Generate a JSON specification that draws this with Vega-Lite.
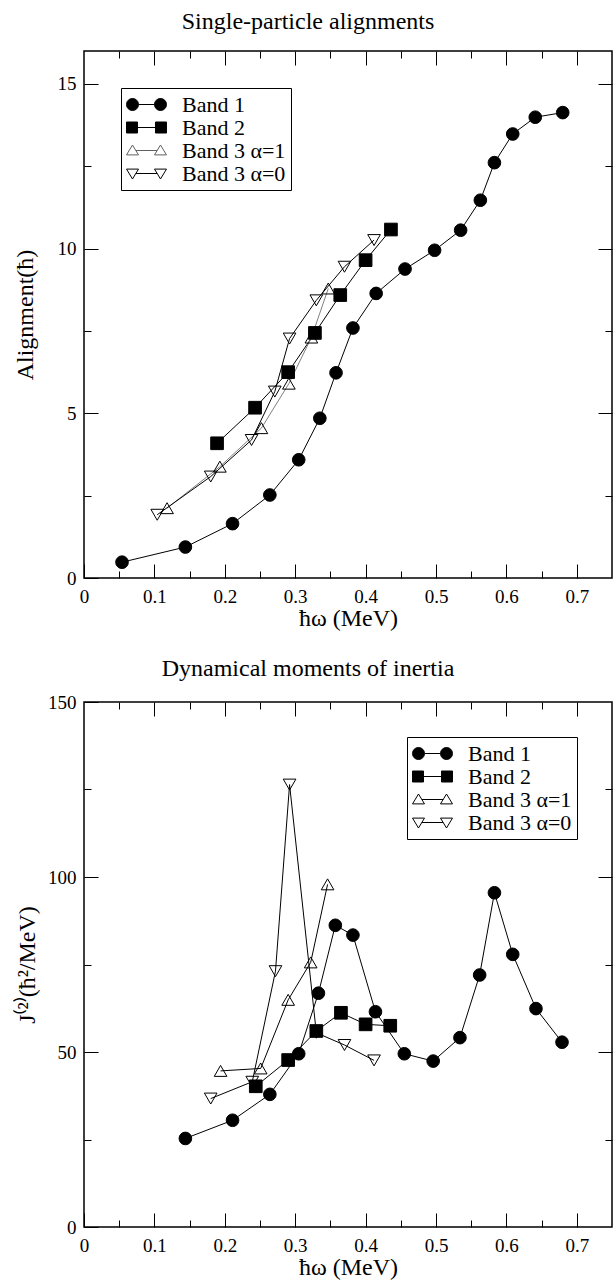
{
  "$schema": "https://vega.github.io/schema/vega-lite/v6.json",
  "padding": {"left": 12, "top": 8, "right": 1, "bottom": 0},
  "config": {
    "font": "Liberation Serif",
    "view": {"stroke": "black", "strokeWidth": 1.5},
    "axis": {"domain": false, "grid": false, "tickColor": "black", "tickWidth": 1, "labelColor": "black", "titleColor": "black", "labelFont": "Liberation Serif", "titleFont": "Liberation Serif", "labelFontSize": 19, "titleFontSize": 24, "titleFontWeight": "normal", "labelFlush": false, "labelOverlap": false},
    "title": {"font": "Liberation Serif", "fontSize": 24, "fontWeight": "normal", "color": "black"},
    "legend": {"title": null, "labelFont": "Liberation Serif", "labelFontSize": 22, "labelColor": "black", "strokeColor": "black", "fillColor": "white", "padding": 5, "rowPadding": 0, "symbolSize": 484, "symbolOffset": 9, "symbolStrokeWidth": 1, "symbolStrokeColor": "black", "labelOffset": 24, "labelLimit": 300}
  },
  "bounds": "flush",
  "spacing": 124,
  "resolve": {"scale": {"shape": "independent", "fill": "independent", "stroke": "independent"}, "legend": {"shape": "independent", "fill": "independent", "stroke": "independent"}},
  "datasets": {
    "align": [
      {"band": "Band 1", "x": 0.054, "y": 0.48}, {"band": "Band 1", "x": 0.144, "y": 0.94}, {"band": "Band 1", "x": 0.211, "y": 1.65}, {"band": "Band 1", "x": 0.264, "y": 2.52}, {"band": "Band 1", "x": 0.305, "y": 3.59}, {"band": "Band 1", "x": 0.335, "y": 4.85}, {"band": "Band 1", "x": 0.358, "y": 6.23}, {"band": "Band 1", "x": 0.382, "y": 7.59}, {"band": "Band 1", "x": 0.415, "y": 8.64}, {"band": "Band 1", "x": 0.456, "y": 9.38}, {"band": "Band 1", "x": 0.498, "y": 9.95}, {"band": "Band 1", "x": 0.535, "y": 10.56}, {"band": "Band 1", "x": 0.563, "y": 11.47}, {"band": "Band 1", "x": 0.583, "y": 12.61}, {"band": "Band 1", "x": 0.609, "y": 13.48}, {"band": "Band 1", "x": 0.641, "y": 13.99}, {"band": "Band 1", "x": 0.680, "y": 14.13},
      {"band": "Band 2", "x": 0.189, "y": 4.09}, {"band": "Band 2", "x": 0.243, "y": 5.17}, {"band": "Band 2", "x": 0.290, "y": 6.25}, {"band": "Band 2", "x": 0.328, "y": 7.44}, {"band": "Band 2", "x": 0.364, "y": 8.59}, {"band": "Band 2", "x": 0.400, "y": 9.65}, {"band": "Band 2", "x": 0.436, "y": 10.58},
      {"band": "Band 3 α=1", "x": 0.118, "y": 2.12}, {"band": "Band 3 α=1", "x": 0.193, "y": 3.38}, {"band": "Band 3 α=1", "x": 0.252, "y": 4.55}, {"band": "Band 3 α=1", "x": 0.291, "y": 5.90}, {"band": "Band 3 α=1", "x": 0.323, "y": 7.30}, {"band": "Band 3 α=1", "x": 0.347, "y": 8.79},
      {"band": "Band 3 α=0", "x": 0.104, "y": 1.92}, {"band": "Band 3 α=0", "x": 0.180, "y": 3.08}, {"band": "Band 3 α=0", "x": 0.238, "y": 4.19}, {"band": "Band 3 α=0", "x": 0.271, "y": 5.66}, {"band": "Band 3 α=0", "x": 0.292, "y": 7.27}, {"band": "Band 3 α=0", "x": 0.330, "y": 8.43}, {"band": "Band 3 α=0", "x": 0.370, "y": 9.45}, {"band": "Band 3 α=0", "x": 0.412, "y": 10.26}
    ],
    "inertia": [
      {"band": "Band 1", "x": 0.144, "y": 25.3}, {"band": "Band 1", "x": 0.211, "y": 30.5}, {"band": "Band 1", "x": 0.264, "y": 37.9}, {"band": "Band 1", "x": 0.305, "y": 49.5}, {"band": "Band 1", "x": 0.333, "y": 66.8}, {"band": "Band 1", "x": 0.357, "y": 86.2}, {"band": "Band 1", "x": 0.382, "y": 83.4}, {"band": "Band 1", "x": 0.414, "y": 61.5}, {"band": "Band 1", "x": 0.455, "y": 49.5}, {"band": "Band 1", "x": 0.496, "y": 47.4}, {"band": "Band 1", "x": 0.534, "y": 54.1}, {"band": "Band 1", "x": 0.562, "y": 72.0}, {"band": "Band 1", "x": 0.583, "y": 95.5}, {"band": "Band 1", "x": 0.609, "y": 77.9}, {"band": "Band 1", "x": 0.642, "y": 62.4}, {"band": "Band 1", "x": 0.679, "y": 52.8},
      {"band": "Band 2", "x": 0.244, "y": 40.2}, {"band": "Band 2", "x": 0.290, "y": 47.7}, {"band": "Band 2", "x": 0.330, "y": 56.0}, {"band": "Band 2", "x": 0.365, "y": 61.2}, {"band": "Band 2", "x": 0.400, "y": 57.9}, {"band": "Band 2", "x": 0.435, "y": 57.5},
      {"band": "Band 3 α=1", "x": 0.194, "y": 44.6}, {"band": "Band 3 α=1", "x": 0.251, "y": 45.3}, {"band": "Band 3 α=1", "x": 0.290, "y": 64.9}, {"band": "Band 3 α=1", "x": 0.322, "y": 75.6}, {"band": "Band 3 α=1", "x": 0.346, "y": 97.9},
      {"band": "Band 3 α=0", "x": 0.180, "y": 36.7}, {"band": "Band 3 α=0", "x": 0.239, "y": 41.5}, {"band": "Band 3 α=0", "x": 0.272, "y": 73.1}, {"band": "Band 3 α=0", "x": 0.292, "y": 126.4}, {"band": "Band 3 α=0", "x": 0.330, "y": 55.5}, {"band": "Band 3 α=0", "x": 0.370, "y": 52.0}, {"band": "Band 3 α=0", "x": 0.412, "y": 47.6}
    ]
  },
  "vconcat": [
    {
      "width": 528, "height": 527,
      "title": {"text": "Single-particle alignments", "dx": -40, "offset": 17},
      "data": {"name": "align"},
      "resolve": {"axis": {"x": "independent", "y": "independent"}, "scale": {"shape": "independent", "fill": "independent", "stroke": "independent"}},
      "layer": [
        {
          "mark": {"type": "line", "strokeWidth": 1},
          "encoding": {
            "x": {"field": "x", "type": "quantitative", "scale": {"domain": [0, 0.75], "nice": false, "zero": false},
              "axis": {"orient": "bottom", "title": "ħω (MeV)", "labelFont": "Liberation Serif", "titleFont": "Liberation Serif", "values": [0, 0.05, 0.1, 0.15, 0.2, 0.25, 0.3, 0.35, 0.4, 0.45, 0.5, 0.55, 0.6, 0.65, 0.7],
                "tickSize": {"condition": {"test": "abs(datum.value*10 - round(datum.value*10)) < 0.001", "value": -14}, "value": -7},
                "labelPadding": 23, "titlePadding": -7,
                "labelExpr": "abs(datum.value*10 - round(datum.value*10)) < 0.001 ? (datum.value == 0 ? '0' : format(datum.value, '.1f')) : ''"}},
            "y": {"field": "y", "type": "quantitative", "scale": {"domain": [0, 16], "nice": false},
              "axis": {"orient": "left", "title": "Alignment(ħ)", "labelFont": "Liberation Serif", "titleFont": "Liberation Serif", "values": [0, 2.5, 5, 7.5, 10, 12.5, 15],
                "tickSize": {"condition": {"test": "datum.value % 5 == 0", "value": -14}, "value": -7},
                "labelPadding": 22, "titlePadding": 20,
                "labelExpr": "datum.value % 5 == 0 ? format(datum.value, 'd') : ''"}},
            "detail": {"field": "band"},
            "stroke": {"condition": {"test": "datum.band === 'Band 3 α=1'", "value": "#808080"}, "value": "black"}
          }
        },
        {
          "mark": {"type": "point", "stroke": "black", "strokeWidth": 1, "opacity": 1, "fillOpacity": 1, "size": 160},
          "encoding": {
            "x": {"field": "x", "type": "quantitative", "scale": {"domain": [0, 0.75], "nice": false, "zero": false},
              "axis": {"orient": "top", "title": null, "labels": false, "values": [0.05, 0.1, 0.15, 0.2, 0.25, 0.3, 0.35, 0.4, 0.45, 0.5, 0.55, 0.6, 0.65, 0.7],
                "tickSize": {"condition": {"test": "abs(datum.value*10 - round(datum.value*10)) < 0.001", "value": -14}, "value": -7}}},
            "y": {"field": "y", "type": "quantitative", "scale": {"domain": [0, 16], "nice": false},
              "axis": {"orient": "right", "title": null, "labels": false, "values": [2.5, 5, 7.5, 10, 12.5, 15],
                "tickSize": {"condition": {"test": "datum.value % 5 == 0", "value": -14}, "value": -7}}},
            "shape": {"field": "band", "type": "nominal",
              "scale": {"domain": ["Band 1", "Band 2", "Band 3 α=1", "Band 3 α=0"], "range": ["circle", "square", "triangle-up", "triangle-down"]},
              "legend": null},
            "fill": {"field": "band", "type": "nominal",
              "scale": {"domain": ["Band 1", "Band 2", "Band 3 α=1", "Band 3 α=0"], "range": ["black", "black", "transparent", "transparent"]},
              "legend": null}
          }
        },
        {
          "transform": [{"filter": "datum.x < 0"}],
          "mark": {"type": "point", "strokeWidth": 1, "opacity": 1, "fillOpacity": 1, "size": 484},
          "encoding": {
            "x": {"field": "x", "type": "quantitative", "scale": {"domain": [0, 0.75], "nice": false, "zero": false}, "axis": null},
            "y": {"field": "y", "type": "quantitative", "scale": {"domain": [0, 16], "nice": false}, "axis": null},
            "shape": {"field": "band", "type": "nominal",
              "scale": {"domain": ["Band 1", "Band 2", "Band 3 α=1", "Band 3 α=0"],
                "range": [
                  "M-1.818,0A0.545,0.545,0,1,0,-0.727,0A0.545,0.545,0,1,0,-1.818,0ZM0.727,0A0.545,0.545,0,1,0,1.818,0A0.545,0.545,0,1,0,0.727,0ZM-0.727,0L0.727,0",
                  "M-1.818,-0.5H-0.818V0.5H-1.818ZM0.818,-0.5H1.818V0.5H0.818ZM-0.818,0L0.818,0",
                  "M-1.818,0.4L-0.727,0.4L-1.273,-0.5ZM0.727,0.4L1.818,0.4L1.273,-0.5ZM-0.97,0L0.97,0",
                  "M-1.818,-0.4L-0.727,-0.4L-1.273,0.5ZM0.727,-0.4L1.818,-0.4L1.273,0.5ZM-0.97,0L0.97,0"
                ]},
              "legend": {"orient": "top-left", "offset": 37, "labelFont": "Liberation Serif"}},
            "fill": {"field": "band", "type": "nominal",
              "scale": {"domain": ["Band 1", "Band 2", "Band 3 α=1", "Band 3 α=0"], "range": ["black", "black", "transparent", "transparent"]},
              "legend": {"orient": "top-left", "offset": 37, "labelFont": "Liberation Serif"}},
            "stroke": {"field": "band", "type": "nominal",
              "scale": {"domain": ["Band 1", "Band 2", "Band 3 α=1", "Band 3 α=0"], "range": ["black", "black", "#606060", "black"]},
              "legend": {"orient": "top-left", "offset": 37, "labelFont": "Liberation Serif"}}
          }
        }
      ]
    },
    {
      "width": 528, "height": 525,
      "title": {"text": "Dynamical moments of inertia", "dx": -40, "offset": 12},
      "data": {"name": "inertia"},
      "resolve": {"axis": {"x": "independent", "y": "independent"}, "scale": {"shape": "independent", "fill": "independent", "stroke": "independent"}},
      "layer": [
        {
          "mark": {"type": "line", "strokeWidth": 1, "color": "black"},
          "encoding": {
            "x": {"field": "x", "type": "quantitative", "scale": {"domain": [0, 0.75], "nice": false, "zero": false},
              "axis": {"orient": "bottom", "title": "ħω (MeV)", "labelFont": "Liberation Serif", "titleFont": "Liberation Serif", "values": [0, 0.05, 0.1, 0.15, 0.2, 0.25, 0.3, 0.35, 0.4, 0.45, 0.5, 0.55, 0.6, 0.65, 0.7],
                "tickSize": {"condition": {"test": "abs(datum.value*10 - round(datum.value*10)) < 0.001", "value": -14}, "value": -7},
                "labelPadding": 23, "titlePadding": -7,
                "labelExpr": "abs(datum.value*10 - round(datum.value*10)) < 0.001 ? (datum.value == 0 ? '0' : format(datum.value, '.1f')) : ''"}},
            "y": {"field": "y", "type": "quantitative", "scale": {"domain": [0, 150], "nice": false},
              "axis": {"orient": "left", "title": "J⁽²⁾(ħ²/MeV)", "labelFont": "Liberation Serif", "titleFont": "Liberation Serif", "values": [0, 25, 50, 75, 100, 125, 150],
                "tickSize": {"condition": {"test": "datum.value % 50 == 0", "value": -14}, "value": -7},
                "labelPadding": 22, "titlePadding": 8,
                "labelExpr": "datum.value % 50 == 0 ? format(datum.value, 'd') : ''"}},
            "detail": {"field": "band"}
          }
        },
        {
          "mark": {"type": "point", "stroke": "black", "strokeWidth": 1, "opacity": 1, "fillOpacity": 1, "size": 160},
          "encoding": {
            "x": {"field": "x", "type": "quantitative", "scale": {"domain": [0, 0.75], "nice": false, "zero": false},
              "axis": {"orient": "top", "title": null, "labels": false, "values": [0.05, 0.1, 0.15, 0.2, 0.25, 0.3, 0.35, 0.4, 0.45, 0.5, 0.55, 0.6, 0.65, 0.7],
                "tickSize": {"condition": {"test": "abs(datum.value*10 - round(datum.value*10)) < 0.001", "value": -14}, "value": -7}}},
            "y": {"field": "y", "type": "quantitative", "scale": {"domain": [0, 150], "nice": false},
              "axis": {"orient": "right", "title": null, "labels": false, "values": [25, 50, 75, 100, 125],
                "tickSize": {"condition": {"test": "datum.value % 50 == 0", "value": -14}, "value": -7}}},
            "shape": {"field": "band", "type": "nominal",
              "scale": {"domain": ["Band 1", "Band 2", "Band 3 α=1", "Band 3 α=0"], "range": ["circle", "square", "triangle-up", "triangle-down"]},
              "legend": null},
            "fill": {"field": "band", "type": "nominal",
              "scale": {"domain": ["Band 1", "Band 2", "Band 3 α=1", "Band 3 α=0"], "range": ["black", "black", "transparent", "transparent"]},
              "legend": null}
          }
        },
        {
          "transform": [{"filter": "datum.x < 0"}],
          "mark": {"type": "point", "strokeWidth": 1, "opacity": 1, "fillOpacity": 1, "size": 484},
          "encoding": {
            "x": {"field": "x", "type": "quantitative", "scale": {"domain": [0, 0.75], "nice": false, "zero": false}, "axis": null},
            "y": {"field": "y", "type": "quantitative", "scale": {"domain": [0, 150], "nice": false}, "axis": null},
            "shape": {"field": "band", "type": "nominal",
              "scale": {"domain": ["Band 1", "Band 2", "Band 3 α=1", "Band 3 α=0"],
                "range": [
                  "M-1.818,0A0.545,0.545,0,1,0,-0.727,0A0.545,0.545,0,1,0,-1.818,0ZM0.727,0A0.545,0.545,0,1,0,1.818,0A0.545,0.545,0,1,0,0.727,0ZM-0.727,0L0.727,0",
                  "M-1.818,-0.5H-0.818V0.5H-1.818ZM0.818,-0.5H1.818V0.5H0.818ZM-0.818,0L0.818,0",
                  "M-1.818,0.4L-0.727,0.4L-1.273,-0.5ZM0.727,0.4L1.818,0.4L1.273,-0.5ZM-0.97,0L0.97,0",
                  "M-1.818,-0.4L-0.727,-0.4L-1.273,0.5ZM0.727,-0.4L1.818,-0.4L1.273,0.5ZM-0.97,0L0.97,0"
                ]},
              "legend": {"orient": "top-right", "offset": 35, "labelFont": "Liberation Serif"}},
            "fill": {"field": "band", "type": "nominal",
              "scale": {"domain": ["Band 1", "Band 2", "Band 3 α=1", "Band 3 α=0"], "range": ["black", "black", "transparent", "transparent"]},
              "legend": {"orient": "top-right", "offset": 35, "labelFont": "Liberation Serif"}},
            "stroke": {"field": "band", "type": "nominal",
              "scale": {"domain": ["Band 1", "Band 2", "Band 3 α=1", "Band 3 α=0"], "range": ["black", "black", "black", "black"]},
              "legend": {"orient": "top-right", "offset": 35, "labelFont": "Liberation Serif"}}
          }
        }
      ]
    }
  ]
}
